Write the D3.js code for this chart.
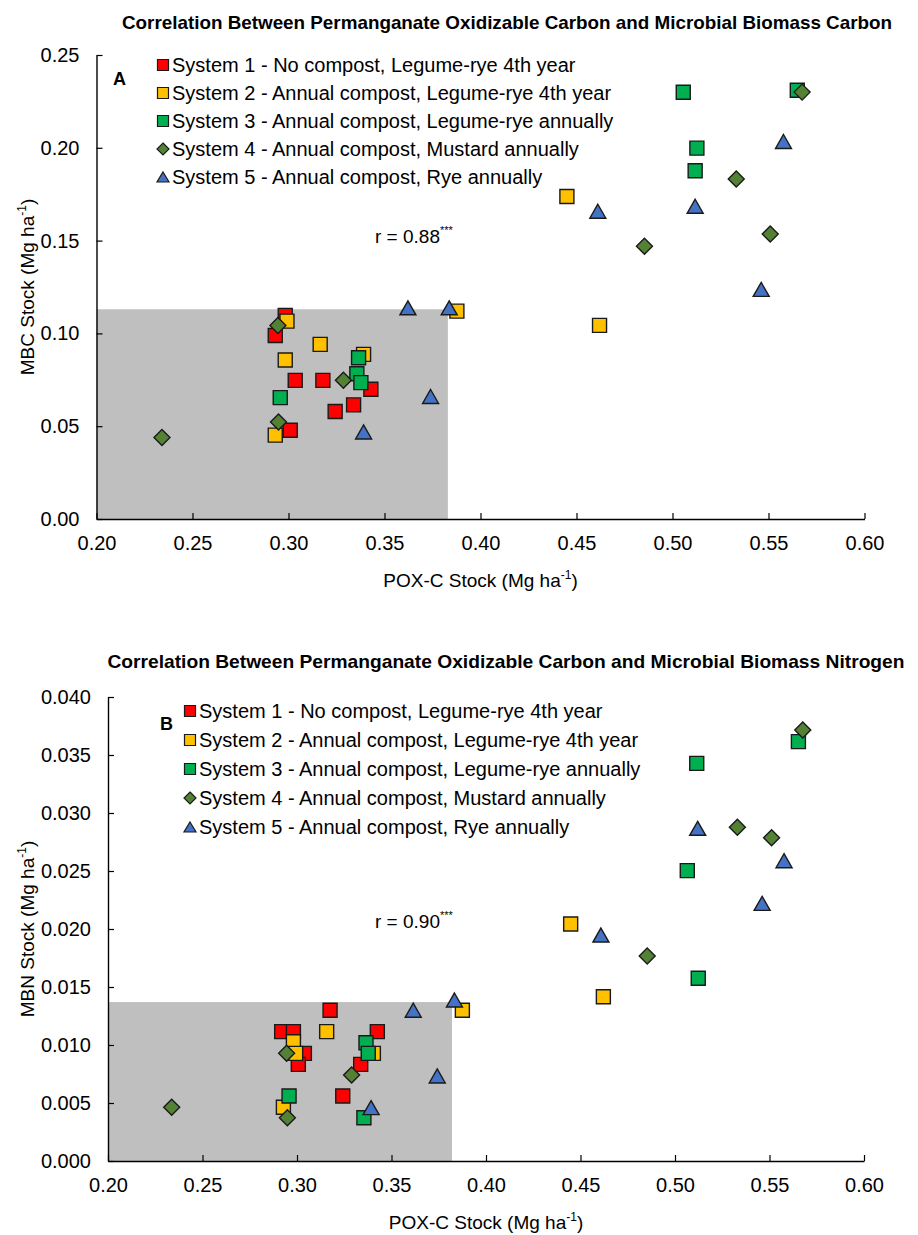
<!DOCTYPE html>
<html>
<head>
<meta charset="utf-8">
<script src="https://cdn.jsdelivr.net/npm/d3@7"></script>
<style>
  body { margin: 0; background: #fff; }
  text { font-family: "Liberation Sans", Arial, sans-serif; fill: #000; }
</style>
</head>
<body>
<svg id="chart" width="918" height="1235"></svg>
<script>
const systemNames = [
    "System 1 - No compost, Legume-rye 4th year",
    "System 2 - Annual compost, Legume-rye 4th year",
    "System 3 - Annual compost, Legume-rye annually",
    "System 4 - Annual compost, Mustard annually",
    "System 5 - Annual compost, Rye annually"
];
const systemColors = ["#ff0000", "#ffc000", "#00b050", "#548235", "#4472c4"];
const systemShapes = ["square", "square", "square", "diamond", "triangle"];

const xTicks = [0.20, 0.25, 0.30, 0.35, 0.40, 0.45, 0.50, 0.55, 0.60];
const mbcTicks = [0, 0.05, 0.10, 0.15, 0.20, 0.25];
const mbnTicks = [0, 0.005, 0.010, 0.015, 0.020, 0.025, 0.030, 0.035, 0.040];

// [POX-C, MBC]
const mbcSys1 = [[0.2983, 0.1097], [0.2931, 0.0989], [0.3035, 0.0747], [0.3179, 0.0747], [0.3429, 0.0699], [0.3339, 0.0615], [0.3243, 0.0579], [0.3009, 0.0478]];
const mbcSys2 = [[0.2992, 0.1066], [0.3165, 0.0941], [0.2983, 0.0857], [0.3391, 0.0887], [0.2931, 0.0452], [0.3877, 0.1120], [0.4450, 0.1738], [0.4620, 0.1043]];
const mbcSys3 = [[0.3365, 0.0869], [0.3356, 0.0783], [0.3377, 0.0735], [0.2957, 0.0654], [0.5056, 0.2299], [0.5650, 0.2310], [0.5127, 0.1998], [0.5118, 0.1876]];
const mbcSys4 = [[0.2341, 0.0439], [0.2945, 0.1043], [0.3286, 0.0747], [0.2948, 0.0523], [0.5675, 0.2300], [0.5332, 0.1832], [0.5509, 0.1536], [0.4854, 0.1470]];
const mbcSys5 = [[0.3391, 0.0469], [0.3622, 0.1138], [0.3837, 0.1138], [0.3740, 0.0660], [0.5578, 0.2034], [0.4611, 0.1658], [0.5118, 0.1685], [0.5462, 0.1237]];

// [POX-C, MBN]
const mbnSys1 = [[0.2919, 0.01115], [0.2981, 0.01115], [0.3039, 0.00928], [0.3175, 0.0130], [0.3425, 0.01115], [0.3337, 0.00833], [0.3242, 0.0056], [0.3007, 0.00833]];
const mbnSys2 = [[0.3157, 0.01115], [0.2981, 0.01028], [0.2993, 0.00928], [0.3404, 0.00928], [0.2928, 0.00463], [0.3875, 0.0130], [0.4448, 0.02043], [0.4621, 0.01416]];
const mbnSys3 = [[0.3365, 0.0102], [0.3377, 0.00928], [0.2958, 0.0056], [0.3354, 0.00373], [0.5065, 0.02503], [0.5653, 0.03615], [0.5115, 0.03428], [0.5123, 0.01575]];
const mbnSys4 = [[0.2337, 0.00463], [0.2945, 0.00928], [0.2949, 0.00373], [0.3289, 0.00741], [0.5676, 0.03716], [0.5330, 0.02877], [0.5511, 0.02787], [0.4853, 0.01767]];
const mbnSys5 = [[0.3742, 0.00733], [0.3392, 0.0046], [0.3615, 0.0130], [0.3833, 0.01388], [0.5120, 0.02868], [0.5577, 0.02589], [0.5461, 0.02221], [0.4608, 0.01948]];

// shaded box: [POX-C upper, y upper]
const mbcShade = [0.383, 0.113];
const mbnShade = [0.382, 0.0137];

const panels = [
    {
        title: "Correlation Between Permanganate Oxidizable Carbon and Microbial Biomass Carbon",
        titleX: 507, titleY: 29, titleW: 770,
        letter: "A", letterX: 113, letterY: 85,
        left: 96.5, right: 864.5, top: 55, bottom: 519,
        yTicks: mbcTicks, yFormat: d3.format(".2f"), yName: "MBC Stock",
        series: [mbcSys1, mbcSys2, mbcSys3, mbcSys4, mbcSys5],
        shade: mbcShade,
        legendX: 163, legendY: 65, legendStep: 28,
        r: "r = 0.88", rX: 375, rY: 243
    },
    {
        title: "Correlation Between Permanganate Oxidizable Carbon and Microbial Biomass Nitrogen",
        titleX: 506, titleY: 668, titleW: 797,
        letter: "B", letterX: 160, letterY: 730,
        left: 108, right: 864, top: 697, bottom: 1161,
        yTicks: mbnTicks, yFormat: d3.format(".3f"), yName: "MBN Stock",
        series: [mbnSys1, mbnSys2, mbnSys3, mbnSys4, mbnSys5],
        shade: mbnShade,
        legendX: 190, legendY: 711, legendStep: 29,
        r: "r = 0.90", rX: 375, rY: 928
    }
];

function shapePath(shape, s) {
    if (shape === "square") return `M${-s / 2},${-s / 2}h${s}v${s}h${-s}Z`;
    if (shape === "diamond") return `M0,${-s / 2 - 1}L${s / 2 + 1},0L0,${s / 2 + 1}L${-s / 2 - 1},0Z`;
    const w = s + 2, h = s;
    return `M0,${-h / 2}L${w / 2},${h / 2}L${-w / 2},${h / 2}Z`;
}

function addUnit(sel) {
    // " (Mg ha-1)" with superscript
    sel.append("tspan").text(" (Mg ha");
    sel.append("tspan").attr("dy", -8).style("font-size", "12px").text("-1");
    sel.append("tspan").attr("dy", 8).text(")");
}

const svg = d3.select("#chart");

panels.forEach(p => {
    const x = d3.scaleLinear().domain([0.2, 0.6]).range([p.left, p.right]);
    const yMax = p.yTicks[p.yTicks.length - 1];
    const y = d3.scaleLinear().domain([0, yMax]).range([p.bottom, p.top]);

    const g = svg.append("g");

    // title
    g.append("text")
        .attr("x", p.titleX)
        .attr("y", p.titleY)
        .attr("text-anchor", "middle")
        .attr("textLength", p.titleW)
        .attr("lengthAdjust", "spacingAndGlyphs")
        .style("font-size", "19px")
        .style("font-weight", "bold")
        .text(p.title);

    // shaded region
    g.append("rect")
        .attr("x", x(0.2))
        .attr("y", y(p.shade[1]))
        .attr("width", x(p.shade[0]) - x(0.2))
        .attr("height", y(0) - y(p.shade[1]))
        .attr("fill", "#bfbfbf");

    // points, system by system
    p.series.forEach((pts, i) => {
        g.append("g").selectAll("path")
            .data(pts)
            .join("path")
            .attr("transform", d => `translate(${x(d[0])},${y(d[1])})`)
            .attr("d", shapePath(systemShapes[i], 14))
            .attr("fill", systemColors[i])
            .attr("stroke", "#1a1a1a")
            .attr("stroke-width", 1.4);
    });

    // axes
    const xAxis = g.append("g")
        .attr("transform", `translate(0,${p.bottom})`)
        .call(d3.axisBottom(x).tickValues(xTicks).tickFormat(d3.format(".2f"))
            .tickSizeInner(-6).tickSizeOuter(0).tickPadding(17));
    const yAxis = g.append("g")
        .attr("transform", `translate(${p.left},0)`)
        .call(d3.axisLeft(y).tickValues(p.yTicks).tickFormat(p.yFormat)
            .tickSizeInner(-6).tickSizeOuter(0).tickPadding(17));
    [xAxis, yAxis].forEach(a => {
        a.select(".domain").attr("stroke", "#000").attr("stroke-width", 1.4);
        a.selectAll(".tick line").attr("stroke", "#000").attr("stroke-width", 1.2);
        a.selectAll(".tick text")
            .style("font-family", '"Liberation Sans", Arial, sans-serif')
            .style("font-size", "20px")
            .attr("fill", "#000");
    });

    // axis titles
    const xt = g.append("text")
        .attr("x", (p.left + p.right) / 2)
        .attr("y", p.bottom + 68)
        .attr("text-anchor", "middle")
        .style("font-size", "19px")
        .text("POX-C Stock");
    addUnit(xt);

    const yt = g.append("text")
        .attr("transform", `translate(34,${(p.top + p.bottom) / 2}) rotate(-90)`)
        .attr("text-anchor", "middle")
        .style("font-size", "19px")
        .text(p.yName);
    addUnit(yt);

    // panel letter
    g.append("text")
        .attr("x", p.letterX)
        .attr("y", p.letterY)
        .style("font-size", "18px")
        .style("font-weight", "bold")
        .text(p.letter);

    // legend
    systemNames.forEach((name, i) => {
        const cy = p.legendY + i * p.legendStep;
        const s = systemShapes[i] === "square" ? 11 : 10;
        g.append("path")
            .attr("transform", `translate(${p.legendX},${cy})`)
            .attr("d", shapePath(systemShapes[i], s))
            .attr("fill", systemColors[i])
            .attr("stroke", "#1a1a1a")
            .attr("stroke-width", 1.2);
        g.append("text")
            .attr("x", p.legendX + 9)
            .attr("y", cy + 7)
            .style("font-size", "20px")
            .text(name);
    });

    // correlation
    const rt = g.append("text")
        .attr("x", p.rX)
        .attr("y", p.rY)
        .style("font-size", "19px")
        .text(p.r);
    rt.append("tspan").attr("dy", -9).style("font-size", "11px").text("***");
});
</script>
</body>
</html>
